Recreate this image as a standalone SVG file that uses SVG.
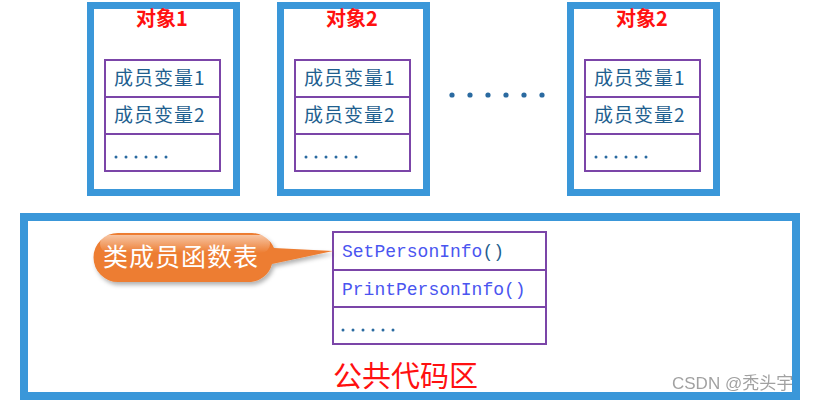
<svg xmlns="http://www.w3.org/2000/svg" width="820" height="400" viewBox="0 0 820 400">
<style>
.frame{fill:#ffffff;stroke:#3a97d9;stroke-width:7}
.cell{fill:#ffffff;stroke:#7b45a8;stroke-width:2}
.title{font-family:"Noto Sans CJK SC",sans-serif;font-size:20px;font-weight:bold;fill:#ff1010;text-anchor:middle}
.mem{font-family:"Noto Sans CJK SC",sans-serif;font-size:19px;fill:#1f5f8f;letter-spacing:1px}
.fn{font-family:"Liberation Mono",monospace;font-size:18px;fill:#4a55f0}
.par{fill:#1f5f8f}
.dot{fill:#2a6aa0}
</style>
<defs>
<g id="dots6">
<circle cx="0" cy="0" r="1.5" class="dot"/><circle cx="10" cy="0" r="1.5" class="dot"/><circle cx="20" cy="0" r="1.5" class="dot"/><circle cx="30" cy="0" r="1.5" class="dot"/><circle cx="40" cy="0" r="1.5" class="dot"/><circle cx="50" cy="0" r="1.5" class="dot"/>
</g>
<linearGradient id="gloss" x1="0" y1="0" x2="0" y2="1">
<stop offset="0" stop-color="#ffffff" stop-opacity="0.55"/>
<stop offset="1" stop-color="#ffffff" stop-opacity="0"/>
</linearGradient>
<filter id="sh" x="-10%" y="-20%" width="130%" height="160%">
<feDropShadow dx="2" dy="3" stdDeviation="2" flood-color="#000" flood-opacity="0.3"/>
</filter>
</defs>

<g id="obj1">
<rect class="frame" x="90.5" y="5.5" width="146" height="187"/>
<text class="title" x="162" y="26">对象1</text>
<rect class="cell" x="105" y="60" width="115" height="37"/>
<rect class="cell" x="105" y="97" width="115" height="37"/>
<rect class="cell" x="105" y="134" width="115" height="37"/>
<text class="mem" x="114" y="85">成员变量1</text>
<text class="mem" x="114" y="122">成员变量2</text>
<use href="#dots6" x="116" y="157"/>
</g>

<g id="obj2">
<rect class="frame" x="280.5" y="5.5" width="146" height="187"/>
<text class="title" x="352" y="26">对象2</text>
<rect class="cell" x="295" y="60" width="115" height="37"/>
<rect class="cell" x="295" y="97" width="115" height="37"/>
<rect class="cell" x="295" y="134" width="115" height="37"/>
<text class="mem" x="304" y="85">成员变量1</text>
<text class="mem" x="304" y="122">成员变量2</text>
<use href="#dots6" x="306" y="157"/>
</g>

<g id="ellipsis">
<circle cx="452" cy="95" r="2.6" class="dot"/><circle cx="470" cy="95" r="2.6" class="dot"/><circle cx="488" cy="95" r="2.6" class="dot"/><circle cx="506" cy="95" r="2.6" class="dot"/><circle cx="524" cy="95" r="2.6" class="dot"/><circle cx="542" cy="95" r="2.6" class="dot"/>
</g>

<g id="obj3">
<rect class="frame" x="570.5" y="5.5" width="146" height="187"/>
<text class="title" x="642" y="26">对象2</text>
<rect class="cell" x="585" y="60" width="115" height="37"/>
<rect class="cell" x="585" y="97" width="115" height="37"/>
<rect class="cell" x="585" y="134" width="115" height="37"/>
<text class="mem" x="594" y="85">成员变量1</text>
<text class="mem" x="594" y="122">成员变量2</text>
<use href="#dots6" x="596" y="157"/>
</g>

<g id="codearea">
<rect x="24" y="217" width="772" height="179" fill="#ffffff" stroke="#3a97d9" stroke-width="8"/>
<text x="333" y="387" font-family="Noto Sans CJK SC,sans-serif" font-size="29" fill="#ff1010">公共代码区</text>
</g>

<g id="functable">
<rect class="cell" x="333" y="232" width="213" height="38"/>
<rect class="cell" x="333" y="270" width="213" height="37"/>
<rect class="cell" x="333" y="307" width="213" height="37"/>
<text class="fn" x="342" y="257">SetPersonInfo<tspan class="par">()</tspan></text>
<text class="fn" x="342" y="295">PrintPersonInfo()</text>
<use href="#dots6" x="343" y="330"/>
</g>

<g id="connectors">
<g id="callout">
<path d="M118,233 H251 A24,24 0 0 1 274,248 L333,251 L272,264 A24,24 0 0 1 251,282 H118 A24.5,24.5 0 0 1 118,233 Z" fill="#ed7d31" filter="url(#sh)"/>
<rect x="100" y="235" width="170" height="18" rx="9" fill="url(#gloss)"/>
<text x="103" y="266" font-family="Noto Sans CJK SC,sans-serif" font-size="25" fill="#ffffff" letter-spacing="1">类成员函数表</text>
</g>
</g>

<text x="672" y="389" font-family="Liberation Sans,Noto Sans CJK SC,sans-serif" font-size="17" fill="#8a8a8a" opacity="0.8">CSDN @秃头宇</text>
</svg>
